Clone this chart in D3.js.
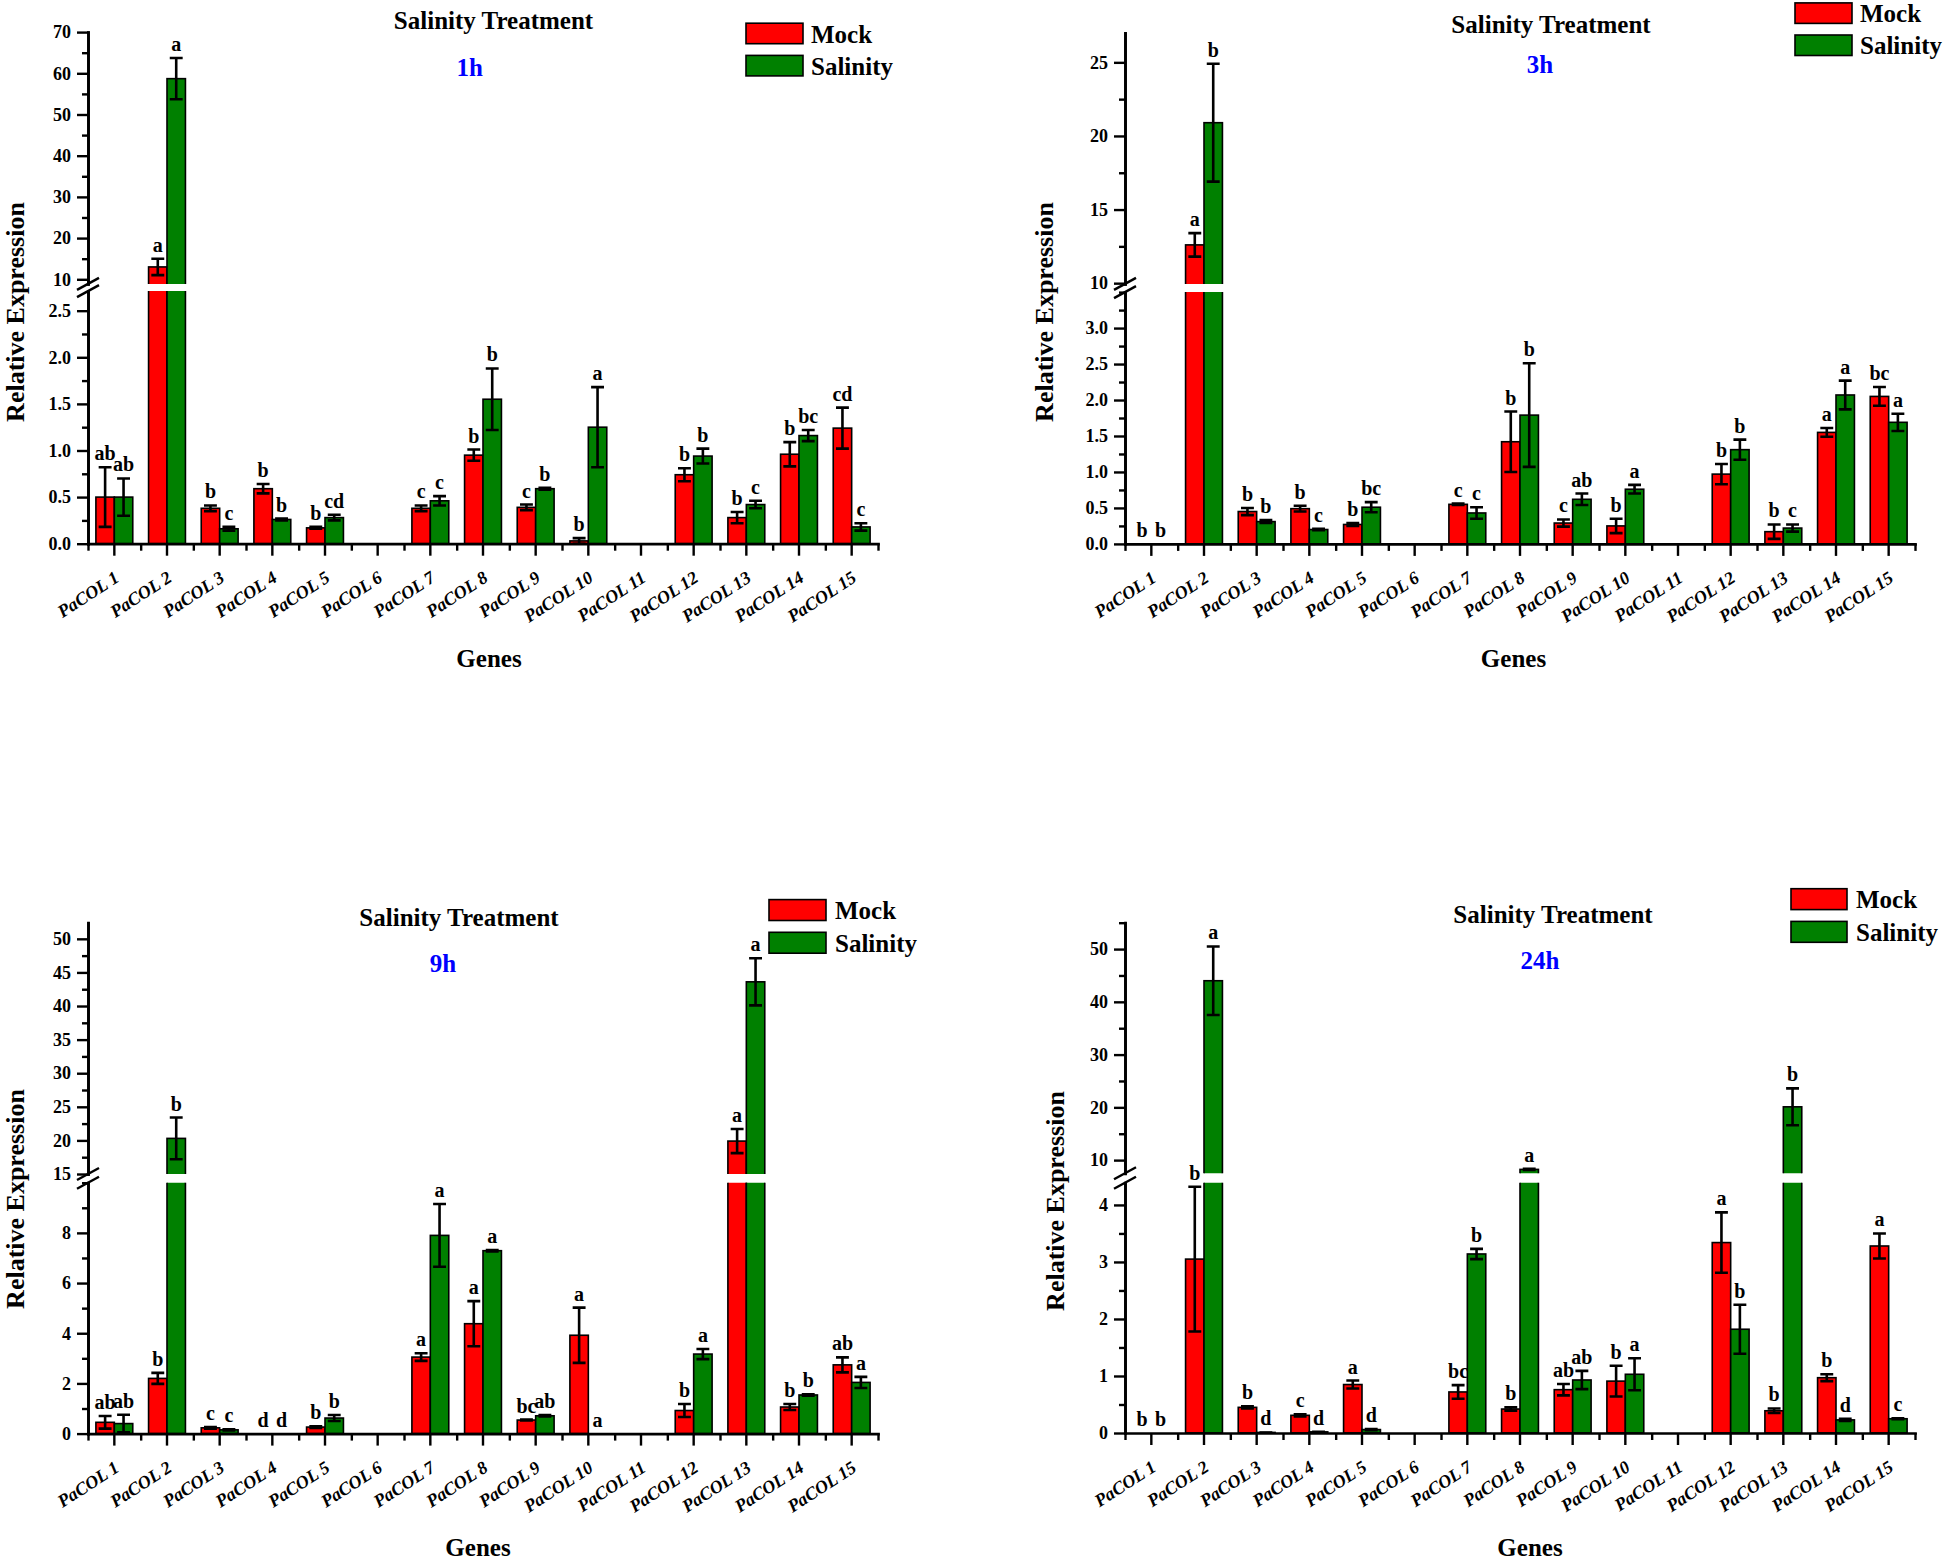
<!DOCTYPE html>
<html><head><meta charset="utf-8">
<script src="https://cdn.jsdelivr.net/npm/d3@7"></script>
<style>
body{margin:0;background:#fff;}
svg text{font-family:"Liberation Serif","Times New Roman",serif;font-weight:bold;fill:#000;}
</style></head><body>
<svg id="chart" width="1946" height="1563"></svg>
<script>
// ---------- DATA ----------
const genes = ["PaCOL 1","PaCOL 2","PaCOL 3","PaCOL 4","PaCOL 5","PaCOL 6","PaCOL 7","PaCOL 8","PaCOL 9","PaCOL 10","PaCOL 11","PaCOL 12","PaCOL 13","PaCOL 14","PaCOL 15"];
const seriesNames = ["Mock","Salinity"];
const titleText = "Salinity Treatment";
const xTitle = "Genes";
const yTitle = "Relative Expression";

// 1h
const mock1h    = [0.50,13.0,0.38,0.59,0.17,0,0.38,0.95,0.39,0.03,0,0.74,0.28,0.96,1.24];
const mock1hErr = [0.32,2.0,0.03,0.05,0.01,0,0.03,0.06,0.03,0.03,0,0.07,0.06,0.13,0.22];
const mock1hLab = ["ab","a","b","b","b","","c","b","c","b","","b","b","b","cd"];
const sal1h     = [0.50,58.7,0.16,0.26,0.28,0,0.46,1.55,0.59,1.25,0,0.94,0.42,1.16,0.18];
const sal1hErr  = [0.20,5.0,0.02,0.01,0.03,0,0.05,0.33,0.01,0.43,0,0.08,0.04,0.06,0.04];
const sal1hLab  = ["ab","a","c","b","cd","","c","b","b","a","","b","c","bc","c"];
const upperTicks1h = [10,20,30,40,50,60,70];
const lowerTicks1h = [0,0.5,1.0,1.5,2.0,2.5];

// 3h
const mock3h    = [0,12.6,0.45,0.49,0.27,0,0.55,1.42,0.29,0.25,0,0.97,0.17,1.55,2.05];
const mock3hErr = [0,0.8,0.05,0.04,0.02,0,0.01,0.42,0.05,0.10,0,0.14,0.10,0.06,0.13];
const mock3hLab = ["b","a","b","b","b","","c","b","c","b","","b","b","a","bc"];
const sal3h     = [0,20.9,0.31,0.20,0.51,0,0.43,1.79,0.62,0.76,0,1.31,0.22,2.07,1.69];
const sal3hErr  = [0,4.0,0.02,0.01,0.07,0,0.08,0.72,0.08,0.06,0,0.14,0.05,0.20,0.12];
const sal3hLab  = ["b","b","b","c","bc","","c","b","ab","a","","b","c","a","a"];
const upperTicks3h = [10,15,20,25];
const lowerTicks3h = [0,0.5,1.0,1.5,2.0,2.5,3.0];

// 9h
const mock9h    = [0.45,2.2,0.23,0,0.26,0,3.05,4.38,0.54,3.92,0,0.92,19.9,1.06,2.74];
const mock9hErr = [0.25,0.22,0.03,0,0.03,0,0.15,0.9,0.02,1.1,0,0.26,1.8,0.12,0.3];
const mock9hLab = ["ab","b","c","d","b","","a","a","bc","a","","b","a","b","ab"];
const sal9h     = [0.40,20.3,0.15,0,0.62,0,7.9,7.29,0.71,0,0,3.17,43.6,1.54,2.04];
const sal9hErr  = [0.35,3.1,0.02,0,0.12,0,1.25,0.03,0.03,0,0,0.2,3.5,0.03,0.22];
const sal9hLab  = ["ab","b","c","d","b","","a","a","ab","a","","a","a","b","a"];
const upperTicks9h = [15,20,25,30,35,40,45,50];
const lowerTicks9h = [0,2,4,6,8];

// 24h
const mock24h    = [0,3.05,0.45,0.31,0.85,0,0.72,0.42,0.76,0.91,0,3.34,0.39,0.97,3.28];
const mock24hErr = [0,1.27,0.02,0.02,0.07,0,0.12,0.03,0.1,0.27,0,0.53,0.04,0.06,0.22];
const mock24hLab = ["b","b","b","c","a","","bc","b","ab","b","","a","b","b","a"];
const sal24h     = [0,44.0,0.01,0.02,0.06,0,3.14,8.24,0.93,1.03,0,1.82,20.1,0.23,0.25];
const sal24hErr  = [0,6.5,0,0,0.01,0,0.09,0.1,0.16,0.28,0,0.43,3.5,0.02,0.01];
const sal24hLab  = ["b","a","d","d","d","","b","a","ab","a","","b","b","d","c"];
const upperTicks24h = [10,20,30,40,50];
const lowerTicks24h = [0,1,2,3,4];

// ---------- LAYOUT ----------
const panels = [
 {time:"1h", mock:mock1h, mockErr:mock1hErr, mockLab:mock1hLab, sal:sal1h, salErr:sal1hErr, salLab:sal1hLab,
  x0:88, x1:878, axisY:543.7,
  lower:{domain:[0,2.71], top:291.1, ticks:lowerTicks1h, minor:0.25, fmt:".1f"},
  upper:{domain:[8.88,70], bottom:283.9, top:32.1, ticks:upperTicks1h, minor:5},
  title:[493.5,28.6], tl:[469.7,76], leg:{x:746,w:57,y1:23.2,y2:55.4,h:20.5,tx:811,t1:42.9,t2:75}, ylab:[24,312], xl:[489,667]},
 {time:"3h", mock:mock3h, mockErr:mock3hErr, mockLab:mock3hLab, sal:sal3h, salErr:sal3hErr, salLab:sal3hLab,
  x0:1125, x1:1915, axisY:543.9,
  lower:{domain:[0,3.5], top:292.1, ticks:lowerTicks3h, minor:0.25, fmt:".1f"},
  upper:{domain:[9.95,27], bottom:283.9, top:32.9, ticks:upperTicks3h, minor:2.5},
  title:[1551,33], tl:[1540,73.2], leg:{x:1795,w:57,y1:2.9,y2:35,h:20.5,tx:1860,t1:22.1,t2:54.3}, ylab:[1053,312], xl:[1513.5,667]},
 {time:"9h", mock:mock9h, mockErr:mock9hErr, mockLab:mock9hLab, sal:sal9h, salErr:sal9hErr, salLab:sal9hLab,
  x0:88, x1:878, axisY:1433.6,
  lower:{domain:[0,10], top:1182.7, ticks:lowerTicks9h, minor:1, fmt:"d"},
  upper:{domain:[15,52.4], bottom:1174, top:922.7, ticks:upperTicks9h, minor:2.5},
  title:[459,926], tl:[443,971.5], leg:{x:769,w:57,y1:899.6,y2:932.3,h:20.9,tx:835,t1:919.2,t2:951.9}, ylab:[24,1199], xl:[478,1556]},
 {time:"24h", mock:mock24h, mockErr:mock24hErr, mockLab:mock24hLab, sal:sal24h, salErr:sal24hErr, salLab:sal24hLab,
  x0:1125, x1:1915, axisY:1433,
  lower:{domain:[0,4.39], top:1182.7, ticks:lowerTicks24h, minor:0.5, fmt:"d"},
  upper:{domain:[7.5,55], bottom:1173.3, top:922.7, ticks:upperTicks24h, minor:5},
  title:[1553,923.3], tl:[1540,969.3], leg:{x:1791,w:56,y1:888.7,y2:921.4,h:20.9,tx:1856,t1:908.3,t2:941}, ylab:[1064,1201], xl:[1530,1556]}
];

const RED = "#ff0000", GREEN = "#008000";
const svg = d3.select("#chart");
const defs = svg.append("defs");

function styleAxis(sel){
  sel.select(".domain").attr("stroke","#000").attr("stroke-width",2.7).attr("stroke-linecap","square");
  sel.selectAll(".tick line").attr("stroke","#000").attr("stroke-width",2.4);
  sel.selectAll(".tick text").style("font-size","18px").attr("fill","#000");
}

panels.forEach((p,i) => {
  const g = svg.append("g");
  const x = d3.scaleBand().domain(genes).range([p.x0,p.x1]).padding(0);
  const bw = x.bandwidth()*0.35;
  const yL = d3.scaleLinear().domain(p.lower.domain).range([p.axisY, p.lower.top]);
  const yU = d3.scaleLinear().domain(p.upper.domain).range([p.upper.bottom, p.upper.top]);
  const lMax = p.lower.domain[1], uMin = p.upper.domain[0];
  const yv = v => v <= lMax ? yL(v) : (v >= uMin ? yU(v) : (p.lower.top + p.upper.bottom)/2);

  defs.append("clipPath").attr("id","cL"+i).append("rect")
    .attr("x",p.x0).attr("y",p.lower.top).attr("width",p.x1-p.x0).attr("height",p.axisY-p.lower.top+4);
  defs.append("clipPath").attr("id","cU"+i).append("rect")
    .attr("x",p.x0).attr("y",p.upper.top-30).attr("width",p.x1-p.x0).attr("height",p.upper.bottom-p.upper.top+30);

  const series = [
    {vals:p.mock, err:p.mockErr, lab:p.mockLab, color:RED, off:-1},
    {vals:p.sal, err:p.salErr, lab:p.salLab, color:GREEN, off:0}
  ];
  const items = [];
  series.forEach(s => genes.forEach((gname,j) => items.push({g:gname, v:s.vals[j], e:s.err[j], lab:s.lab[j], color:s.color, off:s.off})));
  const bx = d => x(d.g) + x.bandwidth()/2 + d.off*bw;
  const drawn = items.filter(d => d.v > 0);

  // lower bars
  g.append("g").attr("clip-path",`url(#cL${i})`).selectAll("rect").data(drawn).join("rect")
    .attr("x", bx).attr("width", bw)
    .attr("y", d => d.v <= lMax ? yL(d.v) : p.lower.top - 10)
    .attr("height", d => p.axisY - (d.v <= lMax ? yL(d.v) : p.lower.top - 10))
    .attr("fill", d => d.color).attr("stroke","#000").attr("stroke-width",1.6);
  // upper bars
  g.append("g").attr("clip-path",`url(#cU${i})`).selectAll("rect").data(drawn.filter(d => d.v > lMax)).join("rect")
    .attr("x", bx).attr("width", bw)
    .attr("y", d => yU(d.v))
    .attr("height", d => p.upper.bottom + 10 - yU(d.v))
    .attr("fill", d => d.color).attr("stroke","#000").attr("stroke-width",1.6);

  // error bars
  const cap = bw*0.35;
  g.append("g").selectAll("path").data(drawn).join("path")
    .attr("d", d => {
      const cx = bx(d) + bw/2, t = yv(d.v + d.e), b = yv(Math.max(0,d.v - d.e));
      return `M${cx-cap},${t}H${cx+cap}M${cx},${t}V${b}M${cx-cap},${b}H${cx+cap}`;
    })
    .attr("stroke","#000").attr("stroke-width",2.6).attr("fill","none");

  // letters
  g.append("g").selectAll("text").data(items.filter(d => d.lab)).join("text")
    .attr("x", d => bx(d) + bw/2)
    .attr("y", d => (d.v > 0 ? yv(d.v + d.e) : p.axisY) - 7)
    .attr("text-anchor","middle").style("font-size","20px").text(d => d.lab);

  // y axes
  const mk = (lo,hi,step,maj) => d3.range(lo, hi+1e-9, step).filter(t => !maj.some(m => Math.abs(m-t)<1e-9));
  const lMinor = mk(0, lMax, p.lower.minor, p.lower.ticks);
  const uMinor = mk(p.upper.ticks[0], p.upper.domain[1], p.upper.minor, p.upper.ticks);
  const axL = g.append("g").attr("transform",`translate(${p.x0},0)`)
    .call(d3.axisLeft(yL).tickValues(p.lower.ticks).tickSize(11).tickSizeOuter(0).tickPadding(6).tickFormat(d3.format(p.lower.fmt)));
  styleAxis(axL);
  const axLm = g.append("g").attr("transform",`translate(${p.x0},0)`)
    .call(d3.axisLeft(yL).tickValues(lMinor).tickSize(6).tickSizeOuter(0).tickFormat(""));
  styleAxis(axLm);
  const axU = g.append("g").attr("transform",`translate(${p.x0},0)`)
    .call(d3.axisLeft(yU).tickValues(p.upper.ticks).tickSize(11).tickSizeOuter(0).tickPadding(6).tickFormat(d3.format("d")));
  styleAxis(axU);
  const axUm = g.append("g").attr("transform",`translate(${p.x0},0)`)
    .call(d3.axisLeft(yU).tickValues(uMinor).tickSize(6).tickSizeOuter(0).tickFormat(""));
  styleAxis(axUm);

  // break marks
  [p.upper.bottom, p.lower.top].forEach(yb => {
    g.append("line").attr("x1",p.x0-11).attr("y1",yb+6).attr("x2",p.x0+11).attr("y2",yb-6)
      .attr("stroke","#000").attr("stroke-width",2.4);
  });

  // x axis
  const axX = g.append("g").attr("transform",`translate(0,${p.axisY})`)
    .call(d3.axisBottom(x).tickSize(12).tickSizeOuter(0).tickFormat(""));
  styleAxis(axX);
  const xm = d3.scaleLinear().domain([0,genes.length]).range([p.x0,p.x1]);
  const axXm = g.append("g").attr("transform",`translate(0,${p.axisY})`)
    .call(d3.axisBottom(xm).tickValues(d3.range(genes.length+1)).tickSize(7).tickSizeOuter(0).tickFormat(""));
  styleAxis(axXm);
  axXm.select(".domain").remove();

  g.append("g").selectAll("text").data(genes).join("text")
    .attr("transform", d => `translate(${x(d)+x.bandwidth()/2+6},${p.axisY+37}) rotate(-33)`)
    .attr("text-anchor","end").style("font-size","18px").style("font-style","italic").text(d => d);

  // titles
  g.append("text").attr("x",p.title[0]).attr("y",p.title[1]).attr("text-anchor","middle")
    .style("font-size","25px").text(titleText);
  g.append("text").attr("x",p.tl[0]).attr("y",p.tl[1]).attr("text-anchor","middle")
    .style("font-size","25px").style("fill","#0000ff").text(p.time);
  g.append("text").attr("transform",`translate(${p.ylab[0]},${p.ylab[1]}) rotate(-90)`).attr("text-anchor","middle")
    .style("font-size","26px").text(yTitle);
  g.append("text").attr("x",p.xl[0]).attr("y",p.xl[1]).attr("text-anchor","middle")
    .style("font-size","25px").text(xTitle);

  // legend
  const L = p.leg;
  [[L.y1,RED,L.t1,seriesNames[0]],[L.y2,GREEN,L.t2,seriesNames[1]]].forEach(([ry,c,ty,name]) => {
    g.append("rect").attr("x",L.x).attr("y",ry).attr("width",L.w).attr("height",L.h)
      .attr("fill",c).attr("stroke","#000").attr("stroke-width",1.6);
    g.append("text").attr("x",L.tx).attr("y",ty).style("font-size","25px").text(name);
  });
});
</script>
</body></html>
